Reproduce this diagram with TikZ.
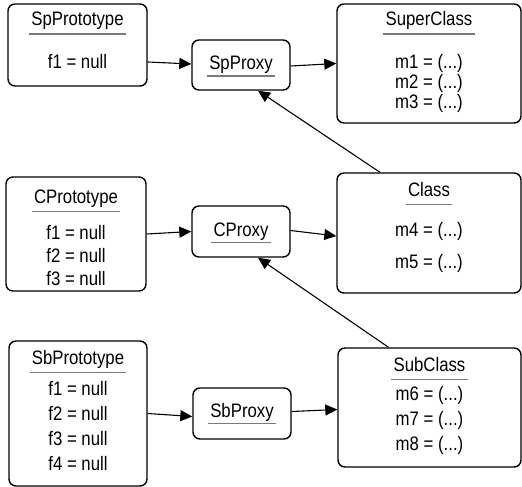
\documentclass[tikz,border=0pt]{standalone}
\usepackage{fontspec}
\setmainfont[FakeStretch=0.86]{Liberation Sans}
\usetikzlibrary{arrows.meta}
\definecolor{ulgray}{HTML}{7A7A7A}

\begin{document}
\begin{tikzpicture}[x=1pt,y=-1pt,
    box/.style={draw,rounded corners=7pt,line width=1.4pt,inner sep=0pt},
    txt/.style={anchor=base,inner sep=0pt,font=\fontsize{19.5}{22}\selectfont},
    ttl/.style={txt,inner xsep=2pt,text depth=8pt,
        append after command={(\tikzlastnode.south west) edge[draw=ulgray,line width=1.4pt] (\tikzlastnode.south east)}},
    pttl/.style={ttl,text depth=6pt},
    link/.style={line width=1.1pt,-{Triangle[length=12pt,width=11pt]}}]
    \useasboundingbox (0,0) rectangle (522,487);

    \node[box,minimum width=139pt,minimum height=82pt] (spproto) at (77.5,45) {};
    \node[box,minimum width=98pt,minimum height=50pt] (spproxy) at (241,65) {};
    \node[box,minimum width=184pt,minimum height=119pt] (supercls) at (429,63.5) {};
    \node[box,minimum width=140pt,minimum height=114pt] (cproto) at (76,234) {};
    \node[box,minimum width=98pt,minimum height=51pt] (cproxy) at (241,231.5) {};
    \node[box,minimum width=184pt,minimum height=120pt] (cls) at (429,233) {};
    \node[box,minimum width=138pt,minimum height=145pt] (sbproto) at (78,413.5) {};
    \node[box,minimum width=98pt,minimum height=51pt] (sbproxy) at (242,413.5) {};
    \node[box,minimum width=183pt,minimum height=119pt] (subcls) at (429.5,407.5) {};

    \node[ttl] (spproto-t) at (77.5,26) {SpPrototype};
    \node[txt] (spproto-f1) at (77.5,69) {f1 = null};
    \node[pttl] (spproxy-t) at (241,70) {SpProxy};
    \node[ttl] (supercls-t) at (429,26) {SuperClass};
    \foreach \m [count=\i] in {1,2,3}
        \node[txt] (supercls-\i) at (429,{69+19.5*(\i-1)}) {m\m{} = (...)};

    \node[ttl] (cproto-t) at (76,203) {CPrototype};
    \foreach \f [count=\i] in {1,2,3}
        \node[txt] (cproto-\i) at (76,{239+23*(\i-1)}) {f\f{} = null};
    \node[pttl] (cproxy-t) at (241,236) {CProxy};
    \node[ttl] (cls-t) at (429,196) {Class};
    \foreach \m [count=\i] in {4,5}
        \node[txt] (cls-\i) at (429,{236+32*(\i-1)}) {m\m{} = (...)};

    \node[ttl] (sbproto-t) at (78,364) {SbPrototype};
    \foreach \f [count=\i] in {1,2,3,4}
        \node[txt] (sbproto-\i) at (78,{395+25.3*(\i-1)}) {f\f{} = null};
    \node[pttl] (sbproxy-t) at (242,417) {SbProxy};
    \node[ttl] (subcls-t) at (429.5,371) {SubClass};
    \foreach \m [count=\i] in {6,7,8}
        \node[txt] (subcls-\i) at (429.5,{400+25*(\i-1)}) {m\m{} = (...)};

    \draw[link] ([yshift=-17pt]spproto.east) -- ([yshift=1pt]spproxy.west);
    \draw[link] ([yshift=-1pt]spproxy.east) -- (supercls.west);
    \draw[link] ([xshift=-49pt]cls.north) -- ([xshift=17pt]spproxy.south);
    \draw[link] (cproto.east) -- (cproxy.west);
    \draw[link] ([yshift=1pt]cproxy.east) -- ([yshift=-3pt]cls.west);
    \draw[link] ([xshift=-41pt]subcls.north) -- ([xshift=17pt]cproxy.south);
    \draw[link] (sbproto.east) -- ([yshift=-3pt]sbproxy.west);
    \draw[link] ([yshift=2pt]sbproxy.east) -- ([yshift=-2pt]subcls.west);
\end{tikzpicture}
\end{document}
